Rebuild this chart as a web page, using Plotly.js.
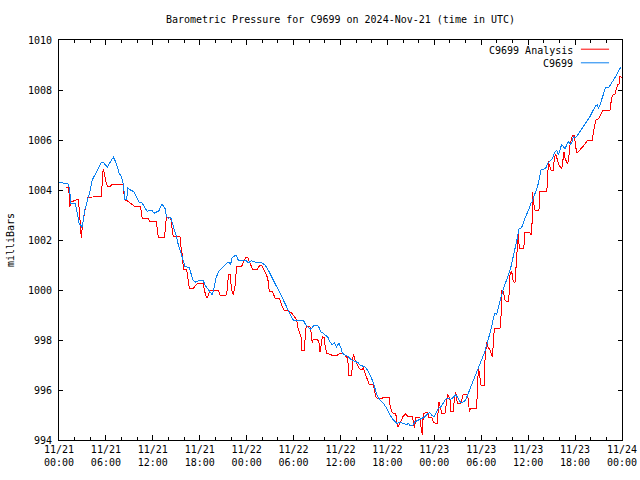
<!DOCTYPE html>
<html>
<head>
<meta charset="utf-8">
<script src="https://cdn.plot.ly/plotly-3.0.1.min.js"></script>
<style>html,body{margin:0;padding:0;background:#fff;}#chart{width:640px;height:480px;}
#chart .scatterlayer path{shape-rendering:crispEdges;}</style>
</head>
<body>
<div id="chart"></div>
<script>
// hours after 2024-11-21 00:00 UTC
const analysisHours = [0.95,1.2,1.28,1.4,1.5,1.7,1.92,2.35,2.47,2.56,2.69,2.77,2.86,2.98,3.1,3.32,3.5,3.7,4.9,5.46,5.54,5.67,5.84,6.05,6.27,6.48,6.69,6.9,8.18,8.31,8.4,8.74,9.16,9.59,10.23,10.44,10.57,10.66,11.42,11.64,12.45,12.57,12.7,13.5,13.64,13.73,14.28,14.4,14.6,15.45,15.54,15.6,15.8,15.9,16.33,16.46,16.67,17.18,17.5,17.73,18.46,18.58,18.88,19.1,19.31,20.38,20.6,21.36,21.53,21.66,21.87,22.08,22.29,22.5,22.71,23.35,23.57,23.9,24.11,24.33,24.63,24.76,25.36,25.7,25.91,26.2,26.55,26.77,26.9,27.33,27.5,27.62,28.18,28.35,28.56,28.77,29.37,29.54,29.76,30.1,30.4,30.52,30.7,30.95,31.04,31.38,31.46,31.59,31.76,32.1,32.22,32.39,32.52,33.07,33.25,33.38,33.5,33.67,33.93,34.01,34.22,34.86,35.63,35.93,36.36,36.66,36.91,37.08,37.42,37.55,37.64,37.85,38.07,38.37,38.71,38.92,39.14,39.35,39.65,40.2,40.33,40.5,40.67,41.26,41.69,42.2,42.33,42.54,42.76,43.06,43.18,43.31,43.48,43.73,44.03,44.33,44.59,44.89,45.1,45.19,45.44,45.65,46.16,46.29,46.46,46.59,47.14,47.31,47.65,47.86,48.16,48.37,48.58,48.71,48.93,49.36,49.57,49.7,50.0,50.13,50.43,50.55,50.72,50.94,51.4,51.58,51.71,52.22,52.35,52.48,52.65,53.41,53.54,53.63,53.75,53.97,54.4,54.48,54.7,54.82,55.12,55.42,55.55,55.67,56.4,56.52,56.6,56.82,57.03,57.25,57.46,57.58,57.67,57.88,58.1,58.31,58.44,58.57,58.74,58.86,59.45,59.55,60.23,60.4,60.5,60.56,60.65,60.87,61.38,61.51,62.36,62.49,62.58,62.7,62.92,63.22,63.35,63.52,63.65,63.95,64.29,64.42,64.59,64.71,64.92,65.05,65.22,65.35,65.56,65.64,65.9,66.07,66.2,66.41,66.84,67.26,67.6,68.2,68.33,68.54,68.63,68.97,69.4,69.61,70.46,70.67,70.89,71.1,71.31,71.44,71.61,71.74,72.0];
const analysisPressure = [1004.11,1004.11,1003.87,1003.33,1003.53,1003.53,1003.57,1003.63,1003.63,1003.33,1002.8,1002.33,1002.07,1002.53,1002.8,1003.2,1003.4,1003.71,1003.73,1003.76,1004.56,1004.83,1004.6,1004.27,1004.13,1004.13,1004.2,1004.24,1004.24,1003.87,1003.6,1003.57,1003.47,1003.36,1003.33,1003.33,1003.0,1002.87,1002.87,1002.73,1002.73,1002.33,1002.11,1002.11,1002.73,1002.91,1002.91,1002.53,1002.15,1002.15,1002.0,1001.73,1001.33,1000.83,1000.83,1000.53,1000.07,1000.07,1000.2,1000.27,1000.27,1000.0,999.67,999.8,1000.0,1000.0,999.8,999.8,1000.0,1000.63,1000.63,1000.0,999.8,1000.13,1000.93,1000.93,1001.13,1001.29,1001.31,1001.13,1000.93,1000.83,1000.83,1001.0,1001.0,1000.83,1000.6,1000.33,999.93,999.93,999.8,999.67,999.67,999.47,999.33,999.2,999.17,999.13,999.07,998.93,998.8,998.53,998.33,998.13,997.6,997.6,998.0,998.47,998.56,998.53,998.33,997.87,998.03,998.03,997.87,997.53,997.73,998.13,998.11,997.8,997.47,997.4,997.4,997.47,997.47,997.36,997.27,996.6,996.6,997.13,997.44,997.2,997.07,996.87,996.8,996.87,996.67,996.47,996.24,996.24,996.0,995.73,995.67,995.67,995.71,995.71,995.4,995.13,995.07,995.07,994.8,994.51,994.6,994.8,994.96,995.04,994.96,994.96,994.93,994.96,994.47,994.91,994.91,994.53,994.2,995.07,995.09,994.91,994.91,994.73,994.67,994.67,995.53,995.4,995.07,995.07,995.63,995.83,995.63,995.13,995.13,995.63,995.93,995.47,995.47,995.67,995.83,995.83,995.63,995.13,995.27,995.27,996.13,996.91,996.67,996.2,996.2,997.2,997.93,997.73,997.6,997.33,997.87,998.47,998.47,998.87,1000.0,999.93,999.6,999.53,999.53,999.87,1000.6,1000.77,1000.33,1000.29,1000.87,1001.76,1002.33,1001.67,1001.67,1002.29,1002.29,1002.2,1002.7,1003.93,1003.53,1003.2,1003.2,1003.93,1003.93,1004.33,1005.16,1005.0,1004.8,1004.8,1005.27,1005.43,1005.27,1005.0,1004.83,1005.13,1005.53,1005.27,1005.07,1005.03,1005.4,1005.8,1006.07,1006.17,1006.17,1005.87,1005.47,1005.53,1005.67,1005.83,1006.0,1006.0,1006.27,1006.6,1006.8,1006.84,1007.07,1007.2,1007.2,1007.67,1007.83,1007.83,1008.07,1008.23,1008.23,1008.53,1008.5];

const stationHours = [0.0,0.6,1.2,1.3,1.4,1.5,2.1,2.3,2.45,2.6,2.8,2.9,3.07,3.3,3.6,3.85,4.05,4.25,4.7,5.1,5.4,5.7,6.0,6.2,6.4,6.7,6.95,7.25,7.45,7.7,8.0,8.2,8.3,8.4,8.65,8.8,9.15,9.6,9.9,10.2,10.65,11.0,11.3,11.5,11.85,12.15,12.45,12.8,13.0,13.2,13.55,13.75,13.95,14.28,14.5,14.7,14.83,15.13,15.26,15.56,15.82,16.11,16.67,16.84,17.1,17.39,17.82,18.46,18.67,18.97,19.31,19.61,19.87,20.08,20.38,20.8,21.23,21.53,21.78,21.95,22.08,22.38,22.63,22.93,23.57,23.9,24.2,24.63,25.05,25.27,25.91,26.34,26.64,26.98,27.41,27.84,28.26,28.69,29.03,29.33,29.41,29.67,29.97,31.25,31.55,31.88,32.22,32.52,32.82,33.16,33.5,33.8,34.01,34.36,34.65,34.95,35.21,35.5,35.8,36.06,36.23,36.57,37.0,37.42,37.85,38.28,38.49,38.92,39.22,39.56,39.9,40.2,40.5,40.75,41.05,41.48,41.91,42.33,42.76,43.18,43.6,44.03,44.46,44.67,44.88,45.3,45.52,45.95,46.37,46.8,47.22,47.44,47.65,48.0,48.3,48.5,48.85,49.15,49.45,49.79,50.13,50.43,50.72,50.98,51.28,51.58,51.92,52.14,52.43,52.77,53.12,53.41,53.71,54.06,54.4,54.7,55.0,55.33,55.55,55.76,55.97,56.18,56.48,56.82,57.12,57.46,57.8,58.1,58.4,58.61,58.82,59.16,59.5,59.8,60.1,60.36,60.53,60.78,61.08,61.3,61.51,61.64,62.24,62.5,62.8,63.1,63.35,63.65,63.86,64.08,64.29,64.5,64.71,64.92,65.13,65.35,65.56,65.77,66.07,66.33,66.62,67.05,67.48,67.9,68.33,68.63,68.88,68.97,69.18,69.4,69.61,69.91,70.33,70.67,71.01,71.31,71.61,71.85];
const stationPressure = [1004.31,1004.27,1004.24,1004.07,1003.87,1003.47,1003.44,1003.13,1002.8,1002.63,1002.6,1002.47,1002.73,1003.2,1003.53,1003.8,1004.07,1004.4,1004.67,1004.93,1005.09,1005.09,1005.0,1004.91,1005.04,1005.17,1005.31,1005.13,1004.93,1004.67,1004.53,1004.27,1004.0,1003.63,1003.63,1004.07,1004.0,1003.93,1003.73,1003.53,1003.47,1003.27,1003.13,1003.2,1003.2,1003.07,1003.13,1003.17,1003.33,1003.43,1003.27,1002.93,1002.87,1002.91,1002.67,1002.4,1002.33,1002.0,1001.8,1001.53,1001.2,1000.93,1000.91,1000.67,1000.4,1000.31,1000.37,1000.37,1000.2,1000.07,999.93,999.8,1000.13,1000.47,1000.73,1000.87,1001.0,1001.09,1001.09,1001.0,1001.27,1001.36,1001.4,1001.2,1001.2,1001.2,1001.09,1001.17,1001.13,1001.09,1001.09,1001.0,1000.87,1000.67,1000.4,1000.13,999.87,999.6,999.4,999.2,999.13,998.96,998.8,998.8,998.6,998.51,998.43,998.56,998.6,998.56,998.33,998.27,998.2,998.13,997.93,997.8,997.89,997.73,997.87,997.67,997.47,997.4,997.33,997.2,997.13,997.09,997.0,996.93,996.91,996.73,996.53,996.27,996.0,995.73,995.6,995.47,995.27,995.0,994.8,994.67,994.69,994.67,994.6,994.67,994.57,994.6,994.73,994.8,994.87,994.93,995.07,995.09,995.0,994.93,995.13,995.27,995.33,995.47,995.63,995.67,995.63,995.71,995.8,995.71,995.53,995.49,995.57,995.71,995.93,996.2,996.47,996.67,996.93,997.2,997.49,997.8,998.13,998.53,998.87,999.07,999.0,999.33,999.67,1000.03,1000.27,1000.6,1000.93,1001.33,1001.8,1002.07,1002.44,1002.49,1002.8,1003.0,1003.24,1003.47,1003.53,1003.8,1004.0,1004.27,1004.53,1004.8,1004.87,1005.07,1005.16,1005.27,1005.47,1005.6,1005.4,1005.6,1005.83,1005.73,1005.64,1005.8,1005.96,1005.83,1005.87,1006.13,1006.09,1006.2,1006.33,1006.53,1006.73,1006.93,1007.2,1007.37,1007.4,1007.24,1007.4,1007.6,1007.8,1008.11,1008.11,1008.27,1008.44,1008.6,1008.8,1008.9];

const tickHours = [0,6,12,18,24,30,36,42,48,54,60,66,72];
const tickLabels = ["11/21<br>00:00","11/21<br>06:00","11/21<br>12:00","11/21<br>18:00","11/22<br>00:00","11/22<br>06:00","11/22<br>12:00","11/22<br>18:00","11/23<br>00:00","11/23<br>06:00","11/23<br>12:00","11/23<br>18:00","11/24<br>00:00"];
const seriesNames = ["C9699 Analysis","C9699"];

const FONT = "DejaVu Sans Mono, monospace";
const RED = "#ff0000", BLUE = "#0a80f0";

const traces = [
  {x: analysisHours, y: analysisPressure, type: "scatter", mode: "lines", name: seriesNames[0],
   line: {color: RED, width: 1}},
  {x: stationHours, y: stationPressure, type: "scatter", mode: "lines", name: seriesNames[1],
   line: {color: BLUE, width: 1}}
];

const layout = {
  width: 640, height: 480,
  margin: {l: 59, r: 18, t: 40, b: 40, pad: 0},
  paper_bgcolor: "#fff", plot_bgcolor: "#fff",
  showlegend: false,
  font: {family: FONT, size: 10, color: "#000"},
  title: {text: "Barometric Pressure for C9699 on 2024-Nov-21 (time in UTC)",
          x: 0.5, xref: "paper", xanchor: "center", y: 0.96, yref: "container", yanchor: "middle",
          font: {family: FONT, size: 10, color: "#000"}},
  xaxis: {
    range: [0, 72], tickmode: "array", tickvals: tickHours, ticktext: tickLabels,
    ticks: "inside", ticklen: 5, tickcolor: "#000", tickwidth: 1,
    showline: true, linecolor: "#000", linewidth: 1, mirror: "ticks",
    showgrid: false, zeroline: false, fixedrange: true,
    tickfont: {family: FONT, size: 10, color: "#000"},
    minor: {tickmode: "linear", tick0: 0, dtick: 2, ticks: "inside", ticklen: 3, tickcolor: "#000", showgrid: false}
  },
  yaxis: {
    range: [994, 1010], tickmode: "linear", tick0: 994, dtick: 2,
    ticks: "inside", ticklen: 4, tickcolor: "#000", tickwidth: 1,
    showline: true, linecolor: "#000", linewidth: 1, mirror: "ticks",
    showgrid: false, zeroline: false, fixedrange: true,
    tickfont: {family: FONT, size: 10, color: "#000"},
    ticklabelstandoff: 4,
    title: {text: "milliBars", font: {family: FONT, size: 10, color: "#000"}, standoff: 11}
  },
  annotations: [
    {text: seriesNames[0], xref: "paper", yref: "paper", x: 0.916, y: 0.975, xanchor: "right", yanchor: "middle",
     showarrow: false, font: {family: FONT, size: 10, color: "#000"}},
    {text: seriesNames[1], xref: "paper", yref: "paper", x: 0.916, y: 0.9425, xanchor: "right", yanchor: "middle",
     showarrow: false, font: {family: FONT, size: 10, color: "#000"}}
  ],
  shapes: [
    {type: "line", xref: "paper", yref: "paper", x0: 0.927, x1: 0.977, y0: 0.977, y1: 0.977, line: {color: RED, width: 1}},
    {type: "line", xref: "paper", yref: "paper", x0: 0.927, x1: 0.977, y0: 0.943, y1: 0.943, line: {color: BLUE, width: 1}}
  ]
};

Plotly.newPlot("chart", traces, layout, {staticPlot: true, displayModeBar: false});
</script>
</body>
</html>
